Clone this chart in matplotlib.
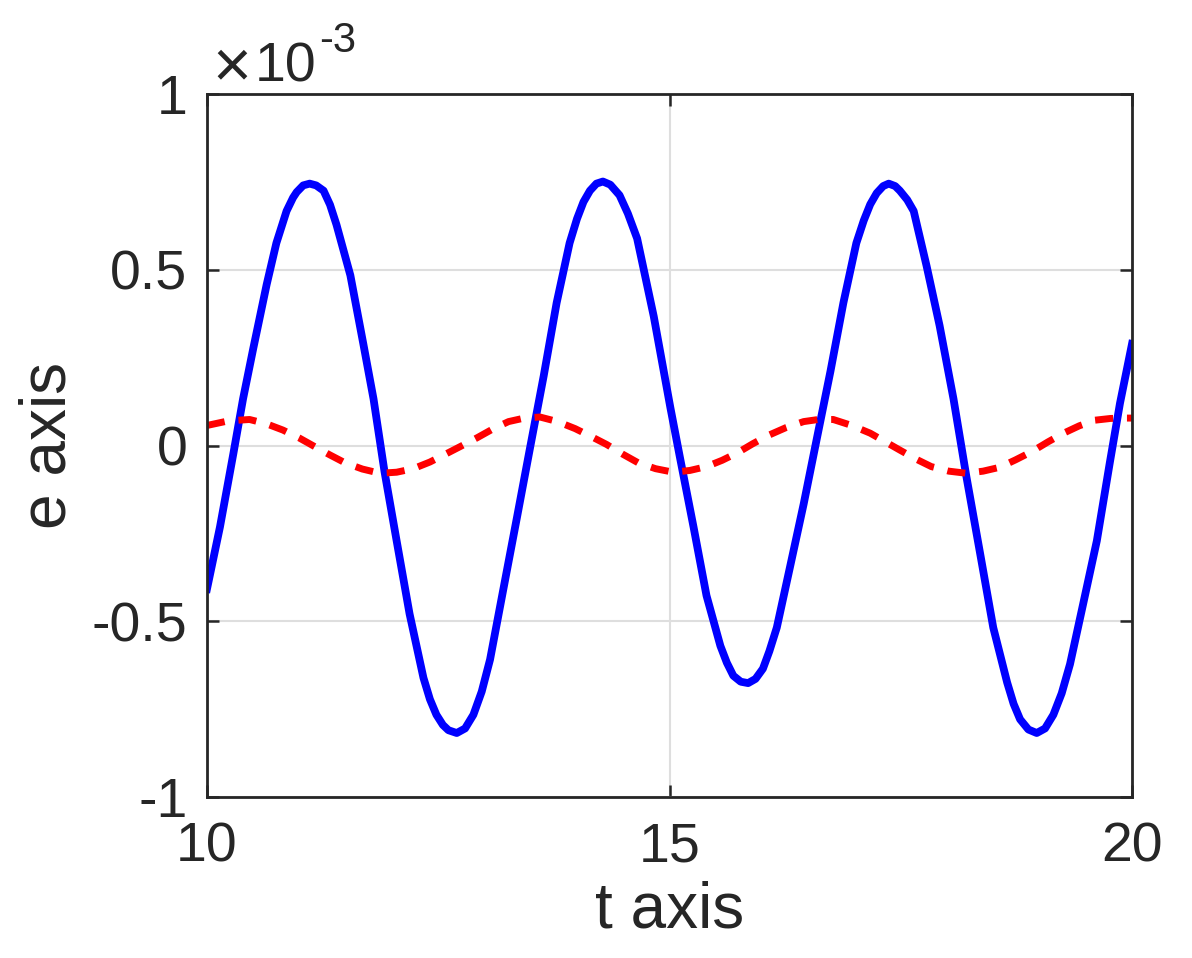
import numpy as np
import matplotlib
matplotlib.use('Agg')
import matplotlib.pyplot as plt

plt.rcParams['font.family'] = ['Liberation Sans', 'DejaVu Sans']

# values (e in units of 1e-3)
t_blue = [10.0, 10.14, 10.285, 10.39, 10.50, 10.645, 10.75, 10.86, 10.93, 10.97,
          11.04, 11.11, 11.18, 11.26, 11.33, 11.40, 11.55, 11.69, 11.80, 11.92,
          12.05, 12.19, 12.34, 12.41, 12.48, 12.55, 12.61, 12.70, 12.79, 12.88,
          12.97, 13.06, 13.20, 13.35, 13.49, 13.64, 13.78, 13.92, 14.00, 14.07,
          14.14, 14.21, 14.28, 14.36, 14.46, 14.55, 14.65, 14.83, 15.01, 15.11,
          15.26, 15.40, 15.55, 15.62, 15.69, 15.77, 15.85, 15.93, 16.01, 16.08,
          16.16, 16.30, 16.45, 16.59, 16.74, 16.88, 17.02, 17.10, 17.17, 17.24,
          17.31, 17.37, 17.44, 17.49, 17.57, 17.64, 17.78, 17.92, 18.07, 18.21,
          18.36, 18.50, 18.65, 18.72, 18.79, 18.88, 18.97, 19.06, 19.15, 19.24,
          19.33, 19.47, 19.62, 19.76, 19.87, 20.0]
e_blue = [-0.408, -0.232, -0.023, 0.133, 0.276, 0.458, 0.576, 0.667, 0.705, 0.721,
          0.740, 0.745, 0.740, 0.725, 0.685, 0.628, 0.484, 0.289, 0.133, -0.076,
          -0.271, -0.479, -0.661, -0.722, -0.766, -0.795, -0.810, -0.818, -0.805, -0.766,
          -0.700, -0.609, -0.414, -0.206, -0.010, 0.198, 0.406, 0.576, 0.645, 0.693,
          0.725, 0.745, 0.751, 0.742, 0.712, 0.660, 0.589, 0.367, 0.107, -0.03,
          -0.232, -0.427, -0.570, -0.618, -0.655, -0.672, -0.676, -0.664, -0.635, -0.585,
          -0.518, -0.349, -0.167, 0.016, 0.211, 0.406, 0.576, 0.640, 0.686, 0.718,
          0.738, 0.745, 0.738, 0.725, 0.699, 0.667, 0.510, 0.341, 0.133, -0.089,
          -0.310, -0.518, -0.674, -0.735, -0.779, -0.808, -0.818, -0.805, -0.766, -0.705,
          -0.622, -0.453, -0.271, -0.049, 0.120, 0.289]

t_red = [10.0, 10.23, 10.46, 10.64, 10.82, 11.0, 11.17, 11.33, 11.49, 11.68,
         11.87, 12.05, 12.23, 12.41, 12.59, 12.76, 12.92, 13.09, 13.26, 13.43,
         13.60, 13.79, 13.98, 14.15, 14.32, 14.49, 14.66, 14.85, 15.04, 15.22,
         15.40, 15.57, 15.74, 15.90, 16.07, 16.26, 16.45, 16.61, 16.77, 16.97,
         17.17, 17.33, 17.49, 17.66, 17.83, 18.02, 18.21, 18.39, 18.57, 18.74,
         18.92, 19.09, 19.26, 19.43, 19.60, 19.77, 19.94, 20.0]
e_red = [0.057, 0.070, 0.074, 0.062, 0.044, 0.021, -0.004, -0.027, -0.049, -0.067,
         -0.079, -0.076, -0.066, -0.047, -0.023, 0.000, 0.022, 0.047, 0.068, 0.078,
         0.081, 0.068, 0.048, 0.026, 0.003, -0.024, -0.049, -0.066, -0.076, -0.071,
         -0.060, -0.042, -0.020, 0.005, 0.029, 0.051, 0.068, 0.074, 0.074, 0.057,
         0.035, 0.011, -0.013, -0.038, -0.060, -0.073, -0.079, -0.073, -0.062, -0.041,
         -0.017, 0.010, 0.035, 0.056, 0.072, 0.077, 0.078, 0.078]

xticks = [10, 15, 20]
yticks = [-1, -0.5, 0, 0.5, 1]
ytick_labels = ['-1', '-0.5', '0', '0.5', '1']

W, H = 1192, 958
fig = plt.figure(figsize=(W / 100, H / 100), dpi=100)
ax = fig.add_axes([207 / W, 1 - 797 / H, 925 / W, 703 / H])

ax.plot(t_blue, e_blue, color='#0000ff', lw=5.6, solid_joinstyle='round')
ax.plot(t_red, e_red, color='#ff0000', lw=5.0, dashes=[2.6, 2.0])

ax.set_xlim(10, 20)
ax.set_ylim(-1, 1)
ax.set_xticks(xticks)
ax.set_yticks(yticks)
ax.set_yticklabels(ytick_labels)
ax.grid(True, color='#dedede', lw=1.5)
ax.set_axisbelow(True)
ax.tick_params(direction='in', length=8.5, width=1.8, color='#262626',
               labelsize=40, labelcolor='#262626', top=True, right=True)
ax.tick_params(axis='x', pad=18)
ax.tick_params(axis='y', pad=14)
for s in ax.spines.values():
    s.set_linewidth(2.0)
    s.set_color('#262626')

ax.set_xlabel('t axis', fontsize=46, color='#262626')
ax.xaxis.label.set_va('baseline')
ax.xaxis.set_label_coords(0.5, -(928 - 797) / 703)
ax.set_ylabel('e axis', fontsize=46, color='#262626')
ax.yaxis.label.set_va('baseline')
ax.yaxis.set_label_coords((65 - 207) / 925, 0.5)

# exponent label, MATLAB style
fig.text(212 / W, 1 - 86 / H, '\u00d7', fontsize=48, color='#262626',
         ha='left', va='baseline')
fig.text(255 / W, 1 - 82 / H, '10', fontsize=40, color='#262626',
         ha='left', va='baseline')
fig.text(319 / W, 1 - 52 / H, '-3', fontsize=30, color='#262626',
         ha='left', va='baseline')

fig.savefig('out.png', dpi=100)
